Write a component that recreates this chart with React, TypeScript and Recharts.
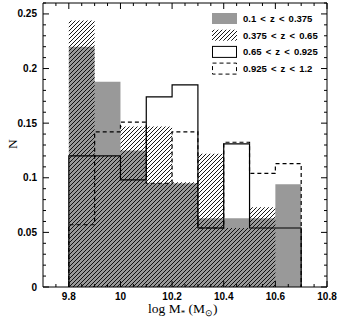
import { ComposedChart, Area, Line, XAxis, YAxis } from 'recharts';

// bin edges of log M* (bin width 0.1)
const binEdges = [9.8, 9.9, 10.0, 10.1, 10.2, 10.3, 10.4, 10.5, 10.6, 10.7];

// normalised counts per bin, one list per redshift slice
const nLowZ = [0.22, 0.188, 0.125, 0.095, 0.095, 0.063, 0.063, 0.063, 0.094];
const nMidZ = [0.244, 0.12, 0.147, 0.147, 0.096, 0.122, 0.054, 0.073, 0];
const nHighZ = [0.12, 0.12, 0.098, 0.174, 0.185, 0.054, 0.131, 0.054, 0.054];
const nTopZ = [0.057, 0.142, 0.151, 0.095, 0.142, 0.054, 0.1325, 0.104, 0.113];

const legendLabels = ['0.1 < z < 0.375', '0.375 < z < 0.65', '0.65 < z < 0.925', '0.925 < z < 1.2'];

const xMajorTicks = [9.8, 10, 10.2, 10.4, 10.6, 10.8];
const xAllTicks = [
  9.75, 9.8, 9.85, 9.9, 9.95, 10, 10.05, 10.1, 10.15, 10.2, 10.25, 10.3, 10.35,
  10.4, 10.45, 10.5, 10.55, 10.6, 10.65, 10.7, 10.75, 10.8,
];
const yMajorTicks = [0, 0.05, 0.1, 0.15, 0.2, 0.25];
const yAllTicks = [
  0, 0.01, 0.02, 0.03, 0.04, 0.05, 0.06, 0.07, 0.08, 0.09, 0.1, 0.11, 0.12, 0.13,
  0.14, 0.15, 0.16, 0.17, 0.18, 0.19, 0.2, 0.21, 0.22, 0.23, 0.24, 0.25, 0.26,
];

// step table: start at zero, one row per bin, close the last bin, back to zero
const zero = { low: 0, mid: 0, high: 0, top: 0 };
const histData = [
  { x: binEdges[0], ...zero },
  ...nLowZ.map((_, i) => ({ x: binEdges[i], low: nLowZ[i], mid: nMidZ[i], high: nHighZ[i], top: nTopZ[i] })),
  { x: binEdges[binEdges.length - 1], low: nLowZ[8], mid: nMidZ[8], high: nHighZ[8], top: nTopZ[8] },
  { x: binEdges[binEdges.length - 1], ...zero },
];

const isIn = (v: number, list: number[]) => list.some((t) => Math.abs(t - v) < 1e-6);
const labelFont = { fontFamily: 'Liberation Sans, Arial, sans-serif', fontSize: 10, fontWeight: 700 };

const XTick = (props: any) => {
  const { x, y, payload, side } = props;
  const major = isIn(payload.value, xMajorTicks);
  const len = major ? 6 : 3;
  const dir = side === 'bottom' ? -1 : 1;
  return (
    <g>
      <line x1={x} x2={x} y1={y} y2={y + dir * len} stroke="#000" strokeWidth={1} />
      {side === 'bottom' && major && (
        <text x={x} y={y + 13} textAnchor="middle" fill="#000" style={labelFont}>
          {String(payload.value)}
        </text>
      )}
    </g>
  );
};

const YTick = (props: any) => {
  const { x, y, payload, side } = props;
  const major = isIn(payload.value, yMajorTicks);
  const len = major ? 6 : 3;
  const dir = side === 'left' ? 1 : -1;
  return (
    <g>
      <line x1={x} x2={x + dir * len} y1={y} y2={y} stroke="#000" strokeWidth={1} />
      {side === 'left' && major && (
        <text x={x - 6} y={y + 3.5} textAnchor="end" fill="#000" style={labelFont}>
          {String(payload.value)}
        </text>
      )}
    </g>
  );
};

const HatchDef = ({ id }: { id: string }) => (
  <pattern id={id} patternUnits="userSpaceOnUse" width={4} height={4}>
    <path d="M0,4 L4,0 M-1,1 L1,-1 M3,5 L5,3" stroke="#000" strokeWidth={0.9} />
  </pattern>
);

const Overlay = () => {
  const rows = [18.5, 35.2, 51.9, 68.6];
  return (
    <svg width={339} height={323} style={{ position: 'absolute', left: 0, top: 0, pointerEvents: 'none' }}>
      <defs>
        <HatchDef id="hatchLegend" />
      </defs>
      <rect x={212} y={rows[0] - 5.5} width={25} height={11} fill="#999" />
      <rect x={212} y={rows[1] - 5.5} width={25} height={11} fill="url(#hatchLegend)" />
      <rect x={212.5} y={rows[2] - 5.5} width={24} height={11} fill="#fff" stroke="#000" strokeWidth={1} />
      <rect x={212.5} y={rows[3] - 5.5} width={24} height={11} fill="#fff" stroke="#000" strokeWidth={1} strokeDasharray="4 3" />
      {legendLabels.map((t, i) => (
        <text key={t} x={243} y={rows[i] + 3.5} fill="#000" style={{ ...labelFont, fontSize: 9.5, wordSpacing: 1.5 }}>
          {t}
        </text>
      ))}
      <text x={148} y={313} fill="#000" style={{ fontFamily: 'Liberation Serif, Times New Roman, serif', fontSize: 13.5 }}>
        log M<tspan fontSize={9} dy={3}>*</tspan>
        <tspan dy={-3}> (M</tspan>
        <tspan fontSize={9} dy={3}>⊙</tspan>
        <tspan dy={-3}>)</tspan>
      </text>
      <text
        x={0}
        y={0}
        transform="translate(17,144) rotate(-90)"
        textAnchor="middle"
        fill="#000"
        style={{ fontFamily: 'Liberation Serif, Times New Roman, serif', fontSize: 13.5 }}
      >
        N
      </text>
    </svg>
  );
};

export default function App() {
  return (
    <div style={{ position: 'absolute', left: 0, top: 0, width: 339, height: 323, background: '#fff' }}>
      <ComposedChart width={339} height={323} data={histData} margin={{ top: 2, right: 11, bottom: 35, left: 42 }}>
        <defs>
          <HatchDef id="hatchFill" />
        </defs>
        <Area
          xAxisId="b"
          yAxisId="l"
          dataKey="low"
          type="stepAfter"
          fill="#999"
          fillOpacity={1}
          stroke="none"
          isAnimationActive={false}
        />
        <Area
          xAxisId="b"
          yAxisId="l"
          dataKey="mid"
          type="stepAfter"
          fill="url(#hatchFill)"
          fillOpacity={1}
          stroke="none"
          isAnimationActive={false}
        />
        <Line
          xAxisId="b"
          yAxisId="l"
          dataKey="high"
          type="stepAfter"
          stroke="#000"
          strokeWidth={1.2}
          dot={false}
          isAnimationActive={false}
        />
        <Line
          xAxisId="b"
          yAxisId="l"
          dataKey="top"
          type="stepAfter"
          stroke="#000"
          strokeWidth={1.2}
          strokeDasharray="4 3"
          dot={false}
          isAnimationActive={false}
        />
        <XAxis
          xAxisId="b"
          dataKey="x"
          type="number"
          domain={[9.7, 10.8]}
          allowDataOverflow
          orientation="bottom"
          height={1}
          ticks={xAllTicks}
          interval={0}
          tickSize={0}
          tickMargin={0}
          tickLine={false}
          axisLine={{ stroke: '#000', strokeWidth: 1 }}
          tick={<XTick side="bottom" />}
        />
        <XAxis
          xAxisId="t"
          dataKey="x"
          type="number"
          domain={[9.7, 10.8]}
          allowDataOverflow
          orientation="top"
          height={1}
          ticks={xAllTicks}
          interval={0}
          tickSize={0}
          tickMargin={0}
          tickLine={false}
          axisLine={{ stroke: '#000', strokeWidth: 1 }}
          tick={<XTick side="top" />}
        />
        <YAxis
          yAxisId="l"
          type="number"
          domain={[0, 0.26]}
          allowDataOverflow
          orientation="left"
          width={1}
          ticks={yAllTicks}
          interval={0}
          tickSize={0}
          tickMargin={0}
          tickLine={false}
          axisLine={{ stroke: '#000', strokeWidth: 1 }}
          tick={<YTick side="left" />}
        />
        <YAxis
          yAxisId="r"
          type="number"
          domain={[0, 0.26]}
          allowDataOverflow
          orientation="right"
          width={1}
          ticks={yAllTicks}
          interval={0}
          tickSize={0}
          tickMargin={0}
          tickLine={false}
          axisLine={{ stroke: '#000', strokeWidth: 1 }}
          tick={<YTick side="right" />}
        />
      </ComposedChart>
      <Overlay />
    </div>
  );
}
